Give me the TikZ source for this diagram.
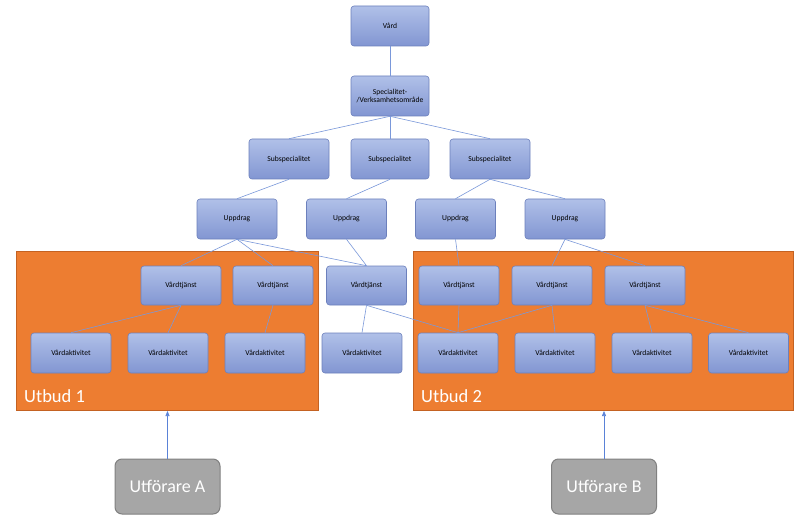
\documentclass[tikz,border=0pt]{standalone}
\usepackage{fontspec}
\setmainfont{Carlito}
\usetikzlibrary{arrows.meta}
\definecolor{boxtop}{RGB}{176,192,232}
\definecolor{boxbot}{RGB}{130,150,210}
\definecolor{boxline}{RGB}{108,128,188}
\definecolor{conn}{RGB}{122,152,218}
\definecolor{orangefill}{RGB}{237,125,49}
\definecolor{orangeline}{RGB}{196,98,34}
\definecolor{grayfill}{RGB}{166,166,166}
\definecolor{grayline}{RGB}{128,128,128}
\definecolor{arrowc}{RGB}{90,130,215}
\tikzset{
  bluebox/.style={draw=boxline, line width=0.6pt, rounded corners=3pt,
    top color=boxtop, bottom color=boxbot, minimum width=80pt, minimum height=40pt,
    inner sep=1pt, align=center, font=\fontsize{7.6}{8.6}\selectfont, text=black},
  orangebox/.style={draw=orangeline, line width=1pt, fill=orangefill, anchor=north west, inner sep=0pt},
  utbudlabel/.style={anchor=base west, text=white, font=\fontsize{18.5}{21}\selectfont, inner sep=0pt},
  graybox/.style={draw=grayline, line width=1pt, fill=grayfill, rounded corners=7pt,
    minimum width=105pt, minimum height=55pt, text=white, font=\fontsize{18}{21}\selectfont},
  conn/.style={draw=conn, line width=0.6pt},
  arrowline/.style={draw=arrowc, line width=0.6pt, -{Triangle[length=5pt,width=4pt]}}
}
\begin{document}
\begin{tikzpicture}[x=1pt,y=-1pt]
\useasboundingbox (0,0) rectangle (801,532);
\fill[white] (0,0) rectangle (801,532);
% offer areas
\node[orangebox, minimum width=302pt, minimum height=159pt] (utbud1) at (16,251) {};
\node[orangebox, minimum width=380pt, minimum height=159pt] (utbud2) at (413,251) {};
\node[utbudlabel] (u1lab) at (24,402) {Utbud 1};
\node[utbudlabel] (u2lab) at (421,402) {Utbud 2};
% hierarchy
\node[bluebox, minimum width=78pt] (vard) at (390,26) {Vård};
\node[bluebox, minimum width=78pt] (spec) at (390,96) {Specialitet-\\/Verksamhetsområde};
\node[bluebox] (sub1) at (289,159) {Subspecialitet};
\node[bluebox, minimum width=78pt] (sub2) at (390,159) {Subspecialitet};
\node[bluebox] (sub3) at (490,159) {Subspecialitet};
\node[bluebox] (upp1) at (237,219) {Uppdrag};
\node[bluebox] (upp2) at (346.5,219) {Uppdrag};
\node[bluebox] (upp3) at (455.5,219) {Uppdrag};
\node[bluebox] (upp4) at (565,219) {Uppdrag};
\node[bluebox, minimum height=39pt] (vt1) at (181,285.5) {Vårdtjänst};
\node[bluebox, minimum height=39pt] (vt2) at (273,285.5) {Vårdtjänst};
\node[bluebox, minimum height=39pt] (vt3) at (366.5,285.5) {Vårdtjänst};
\node[bluebox, minimum height=39pt] (vt4) at (459,285.5) {Vårdtjänst};
\node[bluebox, minimum height=39pt] (vt5) at (552,285.5) {Vårdtjänst};
\node[bluebox, minimum height=39pt] (vt6) at (645,285.5) {Vårdtjänst};
\node[bluebox] (va1) at (71,353) {Vårdaktivitet};
\node[bluebox] (va2) at (168,353) {Vårdaktivitet};
\node[bluebox] (va3) at (265,353) {Vårdaktivitet};
\node[bluebox] (va4) at (362,353) {Vårdaktivitet};
\node[bluebox] (va5) at (458,353) {Vårdaktivitet};
\node[bluebox] (va6) at (555,353) {Vårdaktivitet};
\node[bluebox] (va7) at (652,353) {Vårdaktivitet};
\node[bluebox] (va8) at (748.5,353) {Vårdaktivitet};
% providers
\node[graybox] (utfA) at (167.5,486.5) {Utförare A};
\node[graybox] (utfB) at (604,486.5) {Utförare B};
% connectors
\draw[conn] (vard.south) -- (spec.north);
\draw[conn] (spec.south) -- (sub1.north);
\draw[conn] (spec.south) -- (sub2.north);
\draw[conn] (spec.south) -- (sub3.north);
\draw[conn] (sub1.south) -- (upp1.north);
\draw[conn] (sub2.south) -- (upp2.north);
\draw[conn] (sub3.south) -- (upp3.north);
\draw[conn] (sub3.south) -- (upp4.north);
\draw[conn] (upp1.south) -- (vt1.north);
\draw[conn] (upp1.south) -- (vt2.north);
\draw[conn] (upp1.south) -- (vt3.north);
\draw[conn] (upp2.south) -- (vt3.north);
\draw[conn] (upp3.south) -- (vt4.north);
\draw[conn] (upp4.south) -- (vt5.north);
\draw[conn] (upp4.south) -- (vt6.north);
\draw[conn] (vt1.south) -- (va1.north);
\draw[conn] (vt1.south) -- (va2.north);
\draw[conn] (vt2.south) -- (va3.north);
\draw[conn] (vt3.south) -- (va4.north);
\draw[conn] (vt3.south) -- (va5.north);
\draw[conn] (vt4.south) -- (va5.north);
\draw[conn] (vt5.south) -- (va5.north);
\draw[conn] (vt5.south) -- (va6.north);
\draw[conn] (vt6.south) -- (va7.north);
\draw[conn] (vt6.south) -- (va8.north);
\draw[arrowline] (utfA.north) -- (utfA.north |- utbud1.south);
\draw[arrowline] (utfB.north) -- (utfB.north |- utbud2.south);
\end{tikzpicture}
\end{document}
